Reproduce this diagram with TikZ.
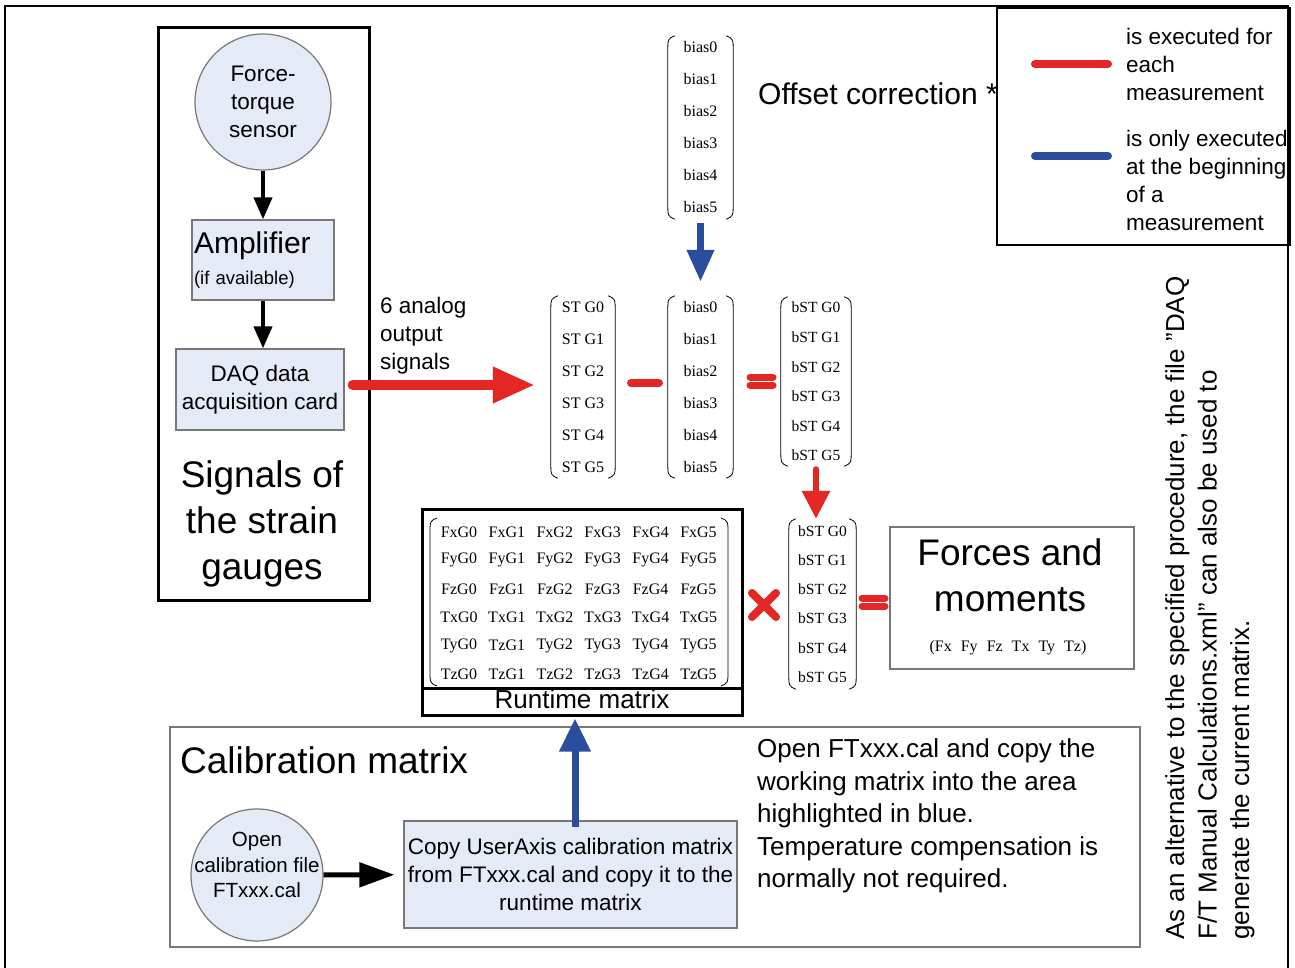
\documentclass[tikz,border=0pt]{standalone}
\usepackage{fontspec}
\setmainfont{Liberation Sans}
\newfontfamily\mtxfont{Liberation Serif}
\usetikzlibrary{arrows.meta,positioning}
\definecolor{flowred}{RGB}{226,39,37}
\definecolor{flowblue}{RGB}{43,77,157}
\definecolor{boxfill}{RGB}{228,234,246}
\definecolor{edgegray}{RGB}{120,120,120}
\tikzset{
  txt/.style={font=\fontsize{22.5}{28}\selectfont, inner sep=0pt, align=center},
  bigtxt/.style={font=\fontsize{37}{46}\selectfont, inner sep=0pt, align=center},
  desctxt/.style={font=\fontsize{26}{32.5}\selectfont, inner sep=0pt, align=left},
  mtx/.style={font=\mtxfont\fontsize{16}{32}\selectfont, inner sep=0pt},
  column/.style={mtx, align=center},
  flowbox/.style={draw=edgegray, fill=boxfill, line width=1.2pt, inner sep=1pt},
  flowcirc/.style={circle, draw=edgegray, fill=boxfill, line width=1.2pt, inner sep=0pt},
  blackarrow/.style={line width=4pt, -{Triangle[length=22pt,width=18pt]}},
  redarrow/.style={draw=flowred, line width=10pt, line cap=round, -{Triangle[length=42pt,width=34pt]}},
  bluearrow/.style={draw=flowblue, line width=7pt, -{Triangle[length=32pt,width=26pt]}},
  opline/.style={draw=flowred, line width=8pt, line cap=round},
}
% round brackets of a matrix, #1 top left, #2 bottom right
\newcommand\parens[2]{%
  \path #1 coordinate (pa) #2 coordinate (pb);
  \draw[line width=0.8pt] ([xshift=7]pa) .. controls ([yshift=-3]pa) .. ([yshift=-16]pa)
    -- ([yshift=16]pa |- pb) .. controls ([yshift=3]pa |- pb) .. ([xshift=7]pa |- pb);
  \draw[line width=0.8pt] ([xshift=-7]pb |- pa) .. controls ([yshift=-3]pb |- pa) .. ([yshift=-16]pb |- pa)
    -- ([yshift=16]pb) .. controls ([yshift=3]pb) .. ([xshift=-7]pb);
}
\begin{document}
\begin{tikzpicture}[x=1pt,y=-1pt]
  \fill[white] (0,0) rectangle (1295,968);
  \useasboundingbox (0,0) rectangle (1295,968);
  \draw[line width=1.5pt] (5,6) rectangle (1288,985);

  % strain gauge signals
  \draw[line width=3pt] (158,28) rectangle (369,600);
  \node[flowcirc, txt, minimum size=136] (sensor) at (263,102) {Force-\\torque\\sensor};
  \node[flowbox, minimum width=142, minimum height=80, text width=138, align=left,
    font=\fontsize{18.5}{31}\selectfont] (amp) at (263,260)
    {{\fontsize{30}{32}\selectfont Amplifier}\\(if available)};
  \node[flowbox, txt, minimum width=168, minimum height=81] (daq) at (260,389.5) {DAQ data\\acquisition card};
  \node[bigtxt] (siglabel) at (262,524) {Signals of\\the strain\\gauges};
  \draw[blackarrow] (sensor) -- (amp);
  \draw[blackarrow] (amp.south) -- (amp.south |- daq.north);
  \node[txt, align=left, anchor=west] (analog) at (380,336) {6 analog\\output\\signals};

  % offset correction
  \node[column, minimum width=65, minimum height=183] (biastop) at (700.5,127.5)
    {bias0\\bias1\\bias2\\bias3\\bias4\\bias5};
  \node[font=\fontsize{30}{36}\selectfont, inner sep=0pt, anchor=west] (offset) at (758,94) {Offset correction *};
  \node[column, minimum width=64, minimum height=182] (st) at (583,387)
    {ST G0\\ST G1\\ST G2\\ST G3\\ST G4\\ST G5};
  \node[column, minimum width=65, minimum height=182] (bias) at (700.5,387)
    {bias0\\bias1\\bias2\\bias3\\bias4\\bias5};
  \node[column, font=\mtxfont\fontsize{15.5}{29.6}\selectfont, minimum width=70, minimum height=169] (bst) at (816,381.5)
    {bST G0\\bST G1\\bST G2\\bST G3\\bST G4\\bST G5};
  \foreach \n in {biastop,st,bias,bst}
    \parens{(\n.north west)}{(\n.south east)};
  \draw[opline] (631,383) -- (659,383);
  \draw[opline, line width=7pt] (750,377) -- (773,377);
  \draw[opline, line width=7pt] (750,385) -- (773,385);
  \draw[redarrow] ([xshift=8,yshift=4.5]daq.east) -- ([xshift=-16,yshift=4.5]daq.east -| st.west);
  \draw[bluearrow, shorten <=4pt, shorten >=14pt] (biastop.south) -- (bias.north);

  % runtime matrix
  \node[draw, line width=3pt, minimum width=320, minimum height=179] (rtbox) at (582,598.5) {};
  \node[draw, line width=3pt, minimum width=320, minimum height=27, txt, font=\fontsize{26}{30}\selectfont,
    text height=18pt, text depth=4pt] (rtlabel) at (582,701.5) {Runtime matrix};
  \foreach \lbl [count=\r from 0] in {Fx,Fy,Fz,Tx,Ty,Tz}
    \foreach \c in {0,...,5}{
      \def\cell{\lbl}
      \ifnum\r=4 \ifnum\c=1 \def\cell{Tz}\fi\fi
      \node[mtx] (rt-\r-\c) at (459+47.9*\c,532+28.4*\r) {\cell G\c};
    }
  \parens{(430,518)}{(728,686)}
  \draw[opline] (752,593) -- (776,617);
  \draw[opline] (752,617) -- (776,593);
  \node[column, font=\mtxfont\fontsize{15.5}{29.2}\selectfont, minimum width=67, minimum height=170] (bst2) at (822.5,604)
    {bST G0\\bST G1\\bST G2\\bST G3\\bST G4\\bST G5};
  \parens{(bst2.north west)}{(bst2.south east)}
  \draw[redarrow, line width=6pt, -{Triangle[length=28pt,width=27pt]}, shorten <=3pt]
    (bst.south) -- (bst.south |- bst2.north);
  \draw[opline, line width=7pt] (862,598) -- (885,598);
  \draw[opline, line width=7pt] (862,606) -- (885,606);

  % forces and moments
  \node[draw=edgegray, line width=1.2pt, minimum width=244, minimum height=142] (forces) at (1012,598) {};
  \node[bigtxt] (forcestxt) at (1010,575.5) {Forces and\\moments};
  \node[mtx] (forcesvec) at (1008,648)
    {(Fx\hspace{9pt}Fy\hspace{9pt}Fz\hspace{9pt}Tx\hspace{9pt}Ty\hspace{9pt}Tz)};

  % legend
  \draw[line width=1.5pt] (997,8) rectangle (1290,245);
  \draw[opline] (1035,64) -- (1108,64);
  \draw[opline, draw=flowblue] (1035,156) -- (1108,156);
  \node[txt, align=left, anchor=west] (legred) at (1126,64) {is executed for\\each\\measurement};
  \node[txt, align=left, anchor=west] (legblue) at (1126,180) {is only executed\\at the beginning\\of a\\measurement};

  % calibration matrix
  \node[draw=edgegray, line width=1.2pt, minimum width=970, minimum height=220] (calbox) at (655,837) {};
  \node[bigtxt, anchor=west] (caltitle) at (180,760) {Calibration matrix};
  \node[flowcirc, minimum size=132] (calfile) at (257,875) {};
  \node[font=\fontsize{20.5}{25.5}\selectfont, align=center, inner sep=0pt] (calfiletxt) at (257,865)
    {Open\\calibration file\\FTxxx.cal};
  \node[flowbox, txt, minimum width=333, minimum height=107] (copy) at (570.5,874.5)
    {Copy UserAxis calibration matrix\\from FTxxx.cal and copy it to the\\runtime matrix};
  \draw[blackarrow, line width=5pt, -{Triangle[length=35pt,width=24pt]}, shorten >=9pt] (calfile) -- (copy);
  \draw[bluearrow, -{Triangle[length=33pt,width=30pt]}, shorten <=-7pt, shorten >=2pt]
    ([xshift=4.5]copy.north) -- ([xshift=4.5]copy.north |- rtlabel.south);
  \node[desctxt, anchor=west] (calnote) at (757,816)
    {Open FTxxx.cal and copy the\\working matrix into the area\\highlighted in blue.\\Temperature compensation is\\normally not required.};

  % alternative note
  \node[desctxt, rotate=90, anchor=west] (altnote) at (1210,940)
    {As an alternative to the specified procedure, the file "DAQ\\F/T Manual Calculations.xml" can also be used to\\generate the current matrix.};
\end{tikzpicture}
\end{document}
